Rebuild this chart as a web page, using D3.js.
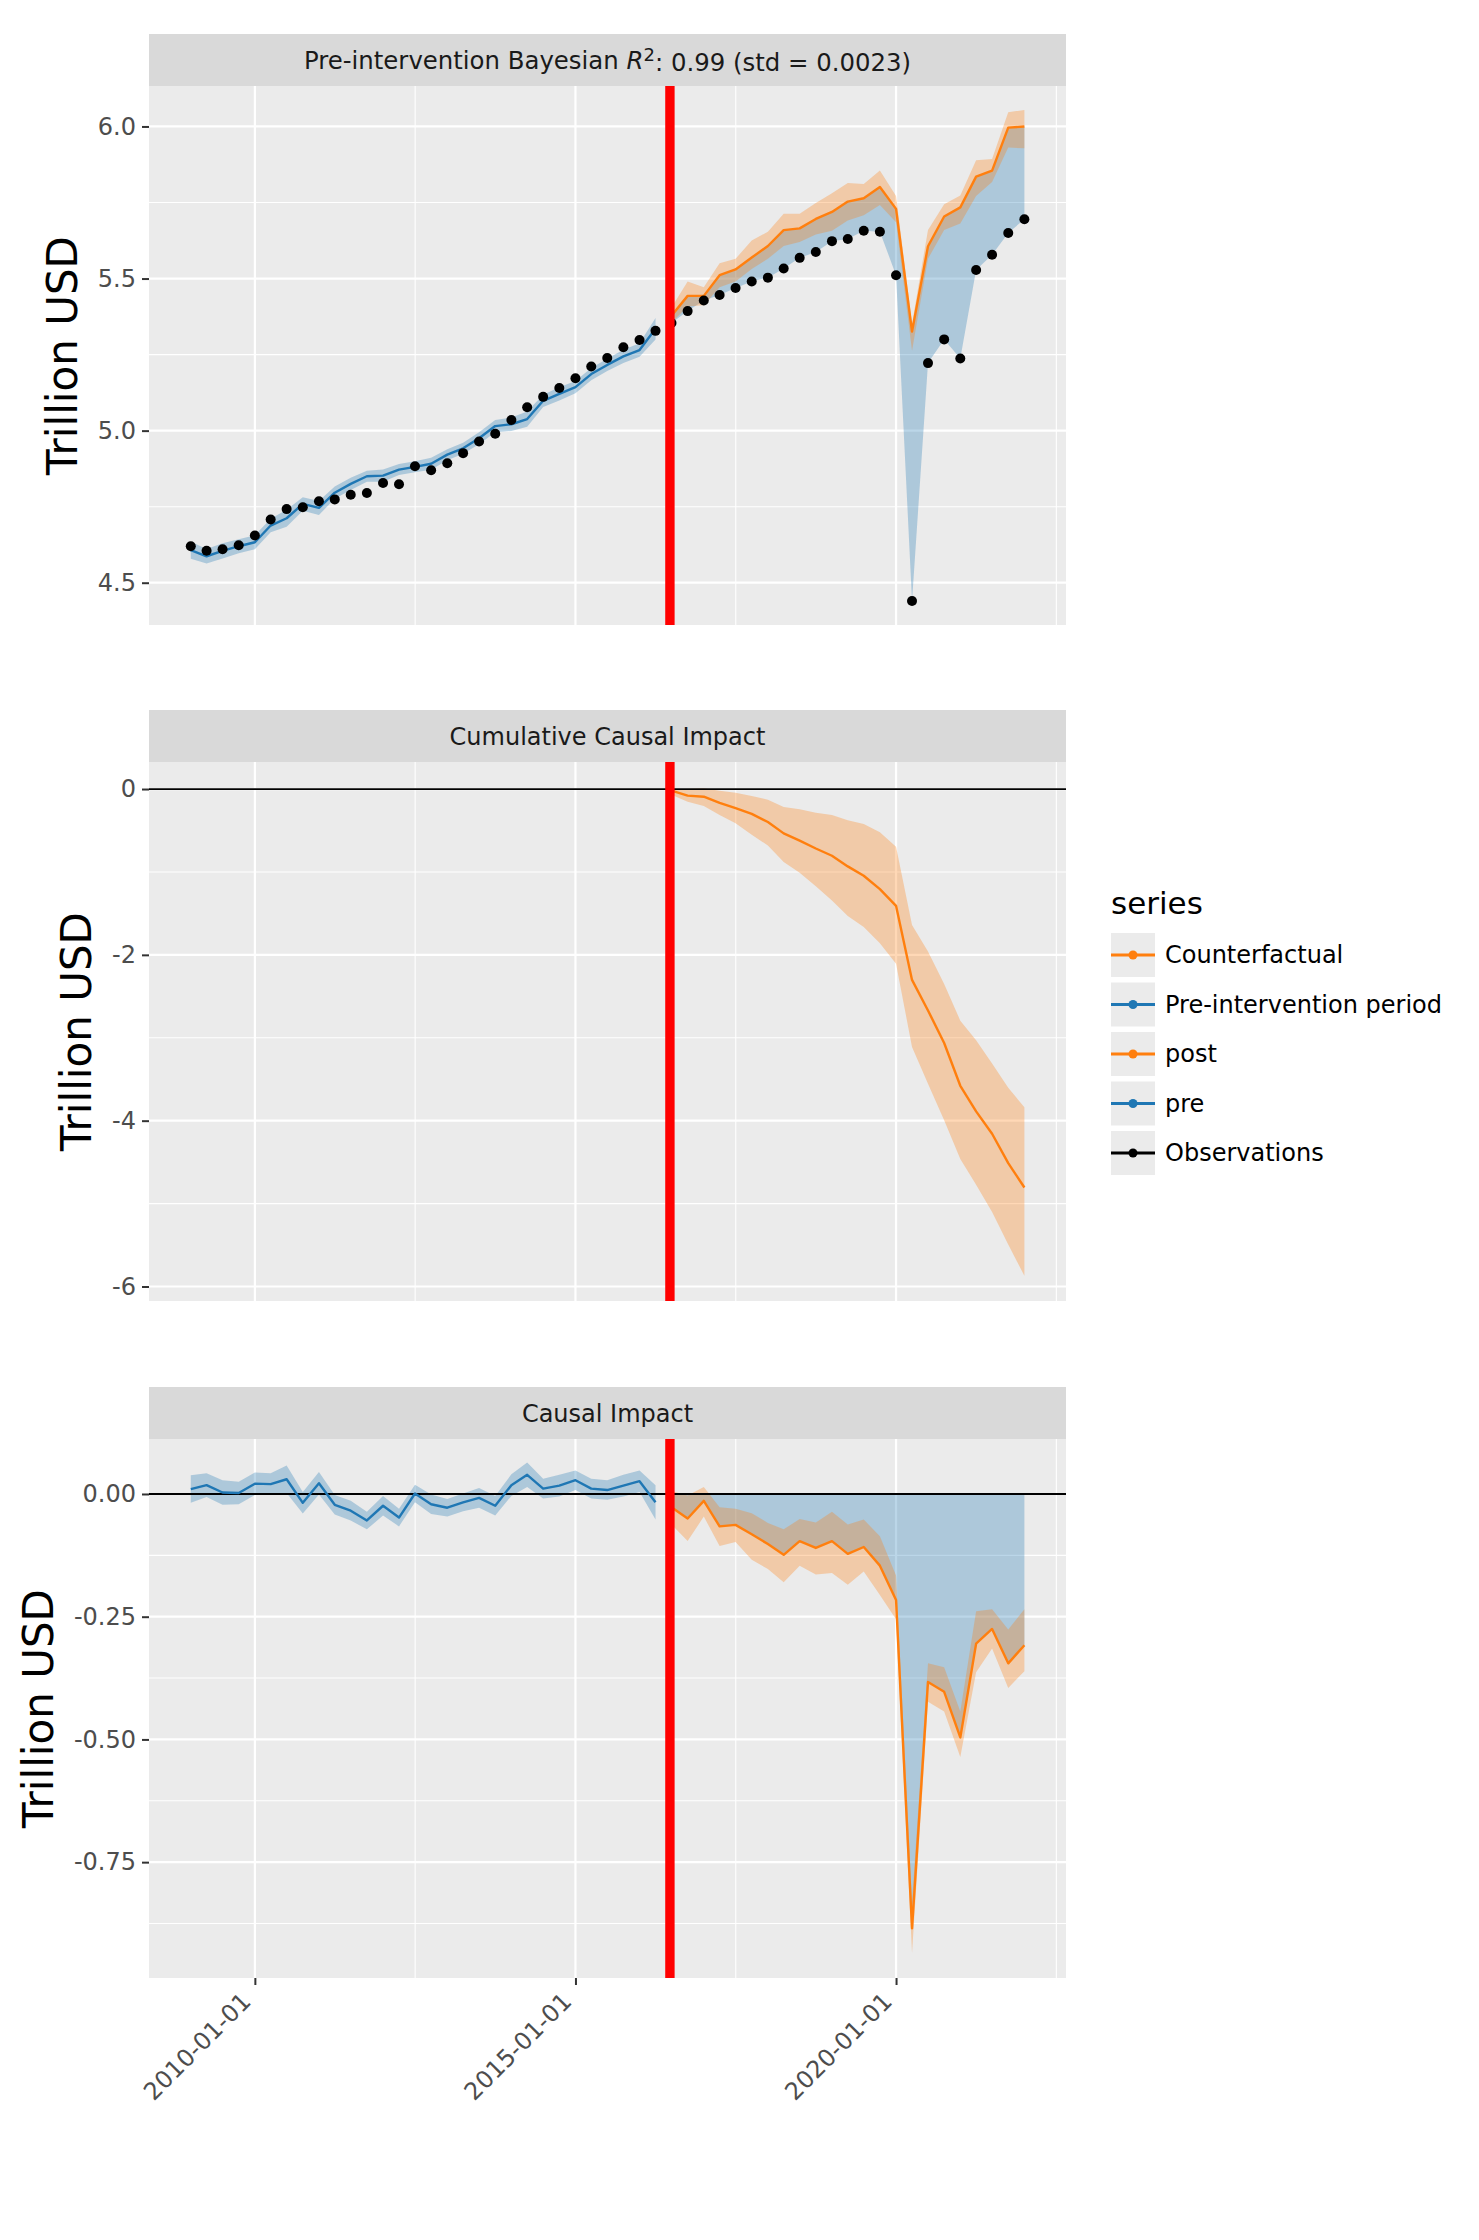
<!DOCTYPE html>
<html>
<head>
<meta charset="utf-8">
<script src="https://cdn.jsdelivr.net/npm/d3@7"></script>
<style>
body { margin: 0; background: #fff; }
svg { display: block; font-family: "DejaVu Sans", sans-serif; }
</style>
</head>
<body>
<svg id="chart" width="1479" height="2240"></svg>
<script>
// quarterly dates
var preDates = ["2009-01-01","2009-04-01","2009-07-01","2009-10-01","2010-01-01","2010-04-01","2010-07-01","2010-10-01",
    "2011-01-01","2011-04-01","2011-07-01","2011-10-01","2012-01-01","2012-04-01","2012-07-01","2012-10-01",
    "2013-01-01","2013-04-01","2013-07-01","2013-10-01","2014-01-01","2014-04-01","2014-07-01","2014-10-01",
    "2015-01-01","2015-04-01","2015-07-01","2015-10-01","2016-01-01","2016-04-01"];
var postDates = ["2016-07-01","2016-10-01","2017-01-01","2017-04-01","2017-07-01","2017-10-01","2018-01-01","2018-04-01",
    "2018-07-01","2018-10-01","2019-01-01","2019-04-01","2019-07-01","2019-10-01","2020-01-01","2020-04-01",
    "2020-07-01","2020-10-01","2021-01-01","2021-04-01","2021-07-01","2021-10-01","2022-01-01"];
var interventionDate = "2016-06-22";

// top panel: observed and predicted (trillion USD)
var preObs = [4.620,4.605,4.610,4.623,4.655,4.708,4.742,4.748,4.768,4.774,4.789,4.795,4.828,4.824,4.883,
    4.870,4.893,4.926,4.964,4.990,5.035,5.077,5.111,5.140,5.172,5.211,5.239,5.274,5.298,5.328];
var prePred = [4.607,4.587,4.605,4.620,4.633,4.688,4.712,4.759,4.746,4.796,4.825,4.850,4.852,4.872,4.881,
    4.891,4.921,4.942,4.975,5.015,5.021,5.038,5.098,5.121,5.143,5.186,5.216,5.244,5.265,5.335];
var preHalfBand = [0.028,0.024,0.025,0.023,0.023,0.022,0.028,0.022,0.023,0.020,0.020,0.018,0.020,0.018,0.018,
    0.020,0.018,0.018,0.020,0.020,0.022,0.025,0.020,0.022,0.020,0.020,0.020,0.022,0.022,0.035];
var postObs = [5.354,5.393,5.428,5.446,5.469,5.490,5.503,5.533,5.568,5.587,5.623,5.630,5.657,5.654,5.511,
    4.440,5.222,5.300,5.237,5.528,5.578,5.650,5.695];
var postPred = [5.378,5.443,5.443,5.511,5.530,5.569,5.607,5.659,5.665,5.696,5.719,5.753,5.764,5.801,5.729,
    5.326,5.606,5.704,5.734,5.835,5.855,5.996,6.000];
var postPredLow = [5.355,5.408,5.412,5.471,5.490,5.531,5.565,5.607,5.620,5.645,5.657,5.691,5.708,5.742,5.685,
    5.263,5.565,5.660,5.681,5.771,5.817,5.931,5.928];
var postPredHigh = [5.405,5.490,5.471,5.550,5.565,5.625,5.654,5.713,5.713,5.748,5.780,5.814,5.811,5.855,5.771,
    5.351,5.660,5.744,5.773,5.889,5.893,6.047,6.054];

// cumulative impact
var cumEffect = [-0.020,-0.079,-0.093,-0.167,-0.231,-0.299,-0.398,-0.535,-0.623,-0.717,-0.805,-0.933,-1.046,
    -1.208,-1.409,-2.302,-2.671,-3.063,-3.579,-3.888,-4.158,-4.512,-4.806];
var cumHigh = [0.000,0.000,0.010,-0.020,-0.044,-0.083,-0.128,-0.216,-0.245,-0.285,-0.314,-0.378,-0.422,
    -0.520,-0.697,-1.640,-1.959,-2.352,-2.794,-3.029,-3.309,-3.603,-3.839];
var cumLow = [-0.069,-0.152,-0.206,-0.314,-0.412,-0.550,-0.682,-0.879,-1.011,-1.173,-1.345,-1.532,-1.664,
    -1.861,-2.106,-3.112,-3.554,-3.996,-4.463,-4.772,-5.101,-5.494,-5.871];

// pointwise impact
var preEffect = [0.010,0.018,0.003,0.002,0.021,0.020,0.030,-0.018,0.022,-0.022,-0.034,-0.054,-0.024,-0.048,
    0.001,-0.021,-0.028,-0.017,-0.008,-0.024,0.018,0.039,0.011,0.017,0.028,0.011,0.008,0.017,0.026,-0.017];
var postEffect = [-0.027,-0.050,-0.014,-0.066,-0.063,-0.082,-0.102,-0.124,-0.096,-0.110,-0.096,-0.122,-0.108,
    -0.146,-0.216,-0.885,-0.383,-0.403,-0.496,-0.305,-0.275,-0.345,-0.308];
var postEffectHigh = [0.006,-0.003,0.014,-0.027,-0.030,-0.039,-0.059,-0.072,-0.051,-0.058,-0.036,-0.062,-0.052,
    -0.086,-0.166,-0.830,-0.345,-0.353,-0.443,-0.239,-0.235,-0.276,-0.235];
var postEffectLow = [-0.062,-0.096,-0.046,-0.106,-0.098,-0.134,-0.153,-0.180,-0.146,-0.164,-0.161,-0.185,-0.158,
    -0.206,-0.255,-0.935,-0.423,-0.443,-0.536,-0.363,-0.315,-0.395,-0.361];

var legendLabels = ["Counterfactual", "Pre-intervention period", "post", "pre", "Observations"];

var ORANGE = "#ff7f0e", BLUE = "#1f77b4";
var legendColors = [ORANGE, BLUE, ORANGE, BLUE, "#000000"];

var parse = d3.utcParse("%Y-%m-%d");
var preD = preDates.map(parse), postD = postDates.map(parse);

var svg = d3.select("#chart");
svg.append("rect").attr("width", 1479).attr("height", 2240).attr("fill", "#fff");

var L = 149, R = 1066;
var x = d3.scaleUtc()
    .domain([parse("2008-05-08"), parse("2022-08-26")])
    .range([L, R]);
var xMajor = ["2010-01-01", "2015-01-01", "2020-01-01"].map(parse);
var xMinor = ["2012-07-02", "2017-07-02", "2022-07-02"].map(parse);

function noMinus(f) {
    return function(d) { return f(d).replace("\u2212", "-"); };
}

// common panel pieces: background, grid, strip, y axis, title
function makePanel(stripTop, top, bottom, yDomain, major, minor, fmt) {
    var g = svg.append("g");
    var y = d3.scaleLinear().domain(yDomain).range([bottom, top]);

    g.append("rect").attr("x", L).attr("y", top)
        .attr("width", R - L).attr("height", bottom - top).attr("fill", "#ebebeb");

    g.selectAll(".hmin").data(minor).enter().append("line")
        .attr("x1", L).attr("x2", R)
        .attr("y1", function(d) { return y(d); }).attr("y2", function(d) { return y(d); })
        .attr("stroke", "#fff").attr("stroke-width", 1.1);
    g.selectAll(".vmin").data(xMinor).enter().append("line")
        .attr("x1", function(d) { return x(d); }).attr("x2", function(d) { return x(d); })
        .attr("y1", top).attr("y2", bottom)
        .attr("stroke", "#fff").attr("stroke-width", 1.1);
    g.selectAll(".hmaj").data(major).enter().append("line")
        .attr("x1", L).attr("x2", R)
        .attr("y1", function(d) { return y(d); }).attr("y2", function(d) { return y(d); })
        .attr("stroke", "#fff").attr("stroke-width", 2.2);
    g.selectAll(".vmaj").data(xMajor).enter().append("line")
        .attr("x1", function(d) { return x(d); }).attr("x2", function(d) { return x(d); })
        .attr("y1", top).attr("y2", bottom)
        .attr("stroke", "#fff").attr("stroke-width", 2.2);

    g.append("rect").attr("x", L).attr("y", stripTop)
        .attr("width", R - L).attr("height", top - stripTop).attr("fill", "#d9d9d9");

    var ax = g.append("g")
        .attr("transform", "translate(" + L + ",0)")
        .call(d3.axisLeft(y).tickValues(major).tickSize(7).tickPadding(6).tickFormat(fmt));
    ax.attr("font-size", null).attr("font-family", null);
    ax.select(".domain").remove();
    ax.selectAll(".tick line").attr("stroke", "#333").attr("stroke-width", 2);
    ax.selectAll(".tick text").attr("fill", "#4d4d4d").style("font-size", "24px");

    var w = d3.max(ax.selectAll(".tick text").nodes(), function(n) { return n.getBBox().width; });
    g.append("text")
        .attr("transform", "translate(" + (L - 13 - w - 21) + "," + ((top + bottom) / 2) + ") rotate(-90)")
        .attr("text-anchor", "middle")
        .style("font-size", "42px")
        .attr("fill", "#000")
        .text("Trillion USD");

    return { g: g, y: y, top: top, bottom: bottom, stripTop: stripTop };
}

function stripLabel(p, text, size) {
    return p.g.append("text")
        .attr("x", (L + R) / 2).attr("y", (p.stripTop + p.top) / 2).attr("dy", "0.36em")
        .attr("text-anchor", "middle").attr("fill", "#1a1a1a")
        .style("font-size", (size || 24) + "px")
        .text(text);
}

function ribbon(p, dates, lo, hi, color, op) {
    var area = d3.area()
        .x(function(d, i) { return x(dates[i]); })
        .y0(function(d, i) { return p.y(lo[i]); })
        .y1(function(d, i) { return p.y(hi[i]); });
    p.g.append("path").datum(dates).attr("d", area)
        .attr("fill", color).attr("fill-opacity", op);
}

function line(p, dates, vals, color) {
    var ln = d3.line()
        .x(function(d, i) { return x(dates[i]); })
        .y(function(d) { return p.y(d); });
    p.g.append("path").datum(vals).attr("d", ln)
        .attr("fill", "none").attr("stroke", color).attr("stroke-width", 2.4)
        .attr("stroke-linejoin", "round");
}

function zeroLine(p) {
    p.g.append("line").attr("x1", L).attr("x2", R)
        .attr("y1", p.y(0)).attr("y2", p.y(0))
        .attr("stroke", "#000").attr("stroke-width", 1.8);
}

function redLine(p) {
    var xi = x(parse(interventionDate));
    p.g.append("line").attr("x1", xi).attr("x2", xi)
        .attr("y1", p.top).attr("y2", p.bottom)
        .attr("stroke", "#ff0000").attr("stroke-width", 9.4);
}

var fmt1 = noMinus(d3.format(".1f"));
var fmt0 = noMinus(d3.format("d"));
var fmt2 = noMinus(d3.format(".2f"));

// ---- panel 1: observed vs prediction
var p1 = makePanel(34, 86, 625, [4.361, 6.133], [4.5, 5.0, 5.5, 6.0], [4.75, 5.25, 5.75], fmt1);
var t1 = stripLabel(p1, "Pre-intervention Bayesian ", 24.4);
t1.append("tspan").style("font-style", "italic").text("R");
t1.append("tspan").attr("dy", "-0.42em").style("font-size", "18px").text("2");
t1.append("tspan").attr("dy", "0.42em").text(": 0.99 (std = 0.0023)");

ribbon(p1, preD,
    prePred.map(function(d, i) { return d - preHalfBand[i]; }),
    prePred.map(function(d, i) { return d + preHalfBand[i]; }), BLUE, 0.3);
ribbon(p1, postD, postObs, postPred, BLUE, 0.3);
ribbon(p1, postD, postPredLow, postPredHigh, ORANGE, 0.3);
line(p1, preD, prePred, BLUE);
line(p1, postD, postPred, ORANGE);
p1.g.selectAll(".obs").data(preObs.concat(postObs)).enter().append("circle")
    .attr("cx", function(d, i) { return x(preD.concat(postD)[i]); })
    .attr("cy", function(d) { return p1.y(d); })
    .attr("r", 5).attr("fill", "#000");
redLine(p1);

// ---- panel 2: cumulative impact
var p2 = makePanel(710, 762, 1301, [-6.175, 0.326], [-6, -4, -2, 0], [-5, -3, -1], fmt0);
stripLabel(p2, "Cumulative Causal Impact");
ribbon(p2, postD, cumLow, cumHigh, ORANGE, 0.3);
zeroLine(p2);
line(p2, postD, cumEffect, ORANGE);
redLine(p2);

// ---- panel 3: pointwise impact
var p3 = makePanel(1387, 1439, 1978, [-0.986, 0.112], [-0.75, -0.5, -0.25, 0], [-0.875, -0.625, -0.375, -0.125], fmt2);
stripLabel(p3, "Causal Impact");
ribbon(p3, preD,
    preEffect.map(function(d, i) { return d - preHalfBand[i]; }),
    preEffect.map(function(d, i) { return d + preHalfBand[i]; }), BLUE, 0.3);
ribbon(p3, postD, postEffect.map(function() { return 0; }), postEffect, BLUE, 0.3);
ribbon(p3, postD, postEffectLow, postEffectHigh, ORANGE, 0.3);
zeroLine(p3);
line(p3, preD, preEffect, BLUE);
line(p3, postD, postEffect, ORANGE);
redLine(p3);

// bottom date axis
var xa = p3.g.append("g")
    .attr("transform", "translate(0," + p3.bottom + ")")
    .call(d3.axisBottom(x).tickValues(xMajor).tickSize(7).tickFormat(d3.utcFormat("%Y-%m-%d")));
xa.attr("font-size", null).attr("font-family", null);
xa.select(".domain").remove();
xa.selectAll(".tick line").attr("stroke", "#333").attr("stroke-width", 2);
xa.selectAll(".tick text")
    .attr("x", 0).attr("y", 0).attr("dy", 0)
    .attr("text-anchor", "end")
    .attr("transform", "translate(-3,25) rotate(-45)")
    .attr("fill", "#4d4d4d")
    .style("font-size", "24px");

// ---- legend
var lg = svg.append("g").attr("transform", "translate(1111,0)");
lg.append("text").attr("x", 0).attr("y", 914)
    .style("font-size", "31px").attr("fill", "#000").text("series");
var items = lg.selectAll(".item").data(legendLabels).enter().append("g")
    .attr("transform", function(d, i) { return "translate(0," + (933 + i * 49.5) + ")"; });
items.append("rect").attr("width", 44).attr("height", 44).attr("fill", "#ebebeb");
items.append("line").attr("x1", 0).attr("x2", 44).attr("y1", 22).attr("y2", 22)
    .attr("stroke", function(d, i) { return legendColors[i]; }).attr("stroke-width", 3);
items.append("circle").attr("cx", 22).attr("cy", 22).attr("r", 4.5)
    .attr("fill", function(d, i) { return legendColors[i]; });
items.append("text").attr("x", 54).attr("y", 30)
    .style("font-size", "24px").attr("fill", "#000")
    .text(function(d) { return d; });
</script>
</body>
</html>
